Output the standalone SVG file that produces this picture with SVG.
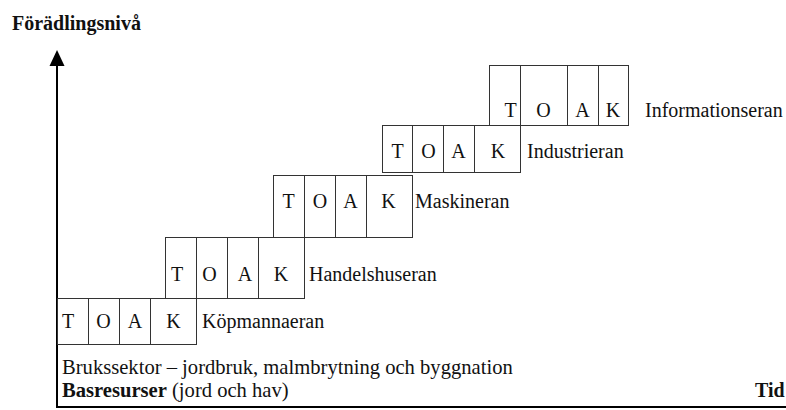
<svg xmlns="http://www.w3.org/2000/svg" width="786" height="410" viewBox="0 0 786 410">
<style>
.t{font-family:"Liberation Serif","Times New Roman",serif;font-size:20px;fill:#111}
.c{text-anchor:middle}
.b{font-weight:bold}
.cell{fill:#fff;stroke:#333;stroke-width:1}
.axis{stroke:#000;stroke-width:2;fill:none}
</style>
<rect width="786" height="410" fill="#fff"/>
<text class="t b" x="12" y="30">Förädlingsnivå</text>
<g id="axes">
<line class="axis" x1="57" y1="64" x2="57" y2="408"/>
<polygon points="57,50 49.5,66 64.5,66" fill="#000"/>
<line class="axis" x1="56" y1="407" x2="786" y2="407"/>
</g>
<g id="level5">
<rect class="cell" x="489.5" y="65.5" width="31" height="60"/>
<rect class="cell" x="520.5" y="65.5" width="47" height="60"/>
<rect class="cell" x="567.5" y="65.5" width="31" height="60"/>
<rect class="cell" x="598.5" y="65.5" width="30" height="60"/>
<text class="t c" x="510.5" y="116.5">T</text>
<text class="t c" x="543.5" y="116.5">O</text>
<text class="t c" x="582.5" y="116.5">A</text>
<text class="t c" x="613" y="116.5">K</text>
<text class="t" x="645" y="116.5">Informationseran</text>
</g>
<g id="level4">
<rect class="cell" x="382.5" y="125.5" width="30" height="47"/>
<rect class="cell" x="412.5" y="125.5" width="31" height="47"/>
<rect class="cell" x="443.5" y="125.5" width="31" height="47"/>
<rect class="cell" x="474.5" y="125.5" width="46" height="47"/>
<text class="t c" x="397.5" y="158">T</text>
<text class="t c" x="428.5" y="158">O</text>
<text class="t c" x="458.5" y="158">A</text>
<text class="t c" x="498" y="158">K</text>
<text class="t" x="527" y="158">Industrieran</text>
</g>
<g id="level3">
<rect class="cell" x="273.5" y="175.5" width="31" height="62"/>
<rect class="cell" x="304.5" y="175.5" width="31" height="62"/>
<rect class="cell" x="335.5" y="175.5" width="31" height="62"/>
<rect class="cell" x="366.5" y="175.5" width="46" height="62"/>
<text class="t c" x="288.5" y="208">T</text>
<text class="t c" x="320" y="208">O</text>
<text class="t c" x="350.5" y="208">A</text>
<text class="t c" x="388.5" y="208">K</text>
<text class="t" x="415" y="208">Maskineran</text>
</g>
<g id="level2">
<rect class="cell" x="165.5" y="237.5" width="31" height="61"/>
<rect class="cell" x="196.5" y="237.5" width="31" height="61"/>
<rect class="cell" x="227.5" y="237.5" width="31" height="61"/>
<rect class="cell" x="258.5" y="237.5" width="46" height="61"/>
<text class="t c" x="177" y="280.5">T</text>
<text class="t c" x="209.5" y="280.5">O</text>
<text class="t c" x="245" y="280.5">A</text>
<text class="t c" x="281" y="280.5">K</text>
<text class="t" x="309" y="280.5">Handelshuseran</text>
</g>
<g id="level1">
<rect class="cell" x="57.5" y="298.5" width="31" height="46"/>
<rect class="cell" x="88.5" y="298.5" width="31" height="46"/>
<rect class="cell" x="119.5" y="298.5" width="31" height="46"/>
<rect class="cell" x="150.5" y="298.5" width="46" height="46"/>
<text class="t c" x="68" y="328">T</text>
<text class="t c" x="103.5" y="328">O</text>
<text class="t c" x="135" y="328">A</text>
<text class="t c" x="173.5" y="328">K</text>
<text class="t" x="202" y="328">Köpmannaeran</text>
</g>
<g id="base">
<text class="t" style="font-size:20.6px" x="62" y="373.5">Brukssektor – jordbruk, malmbrytning och byggnation</text>
<text class="t" style="font-size:20.6px" x="62" y="396.5"><tspan class="b">Basresurser</tspan> (jord och hav)</text>
</g>
<text class="t b" x="755" y="397">Tid</text>
</svg>
